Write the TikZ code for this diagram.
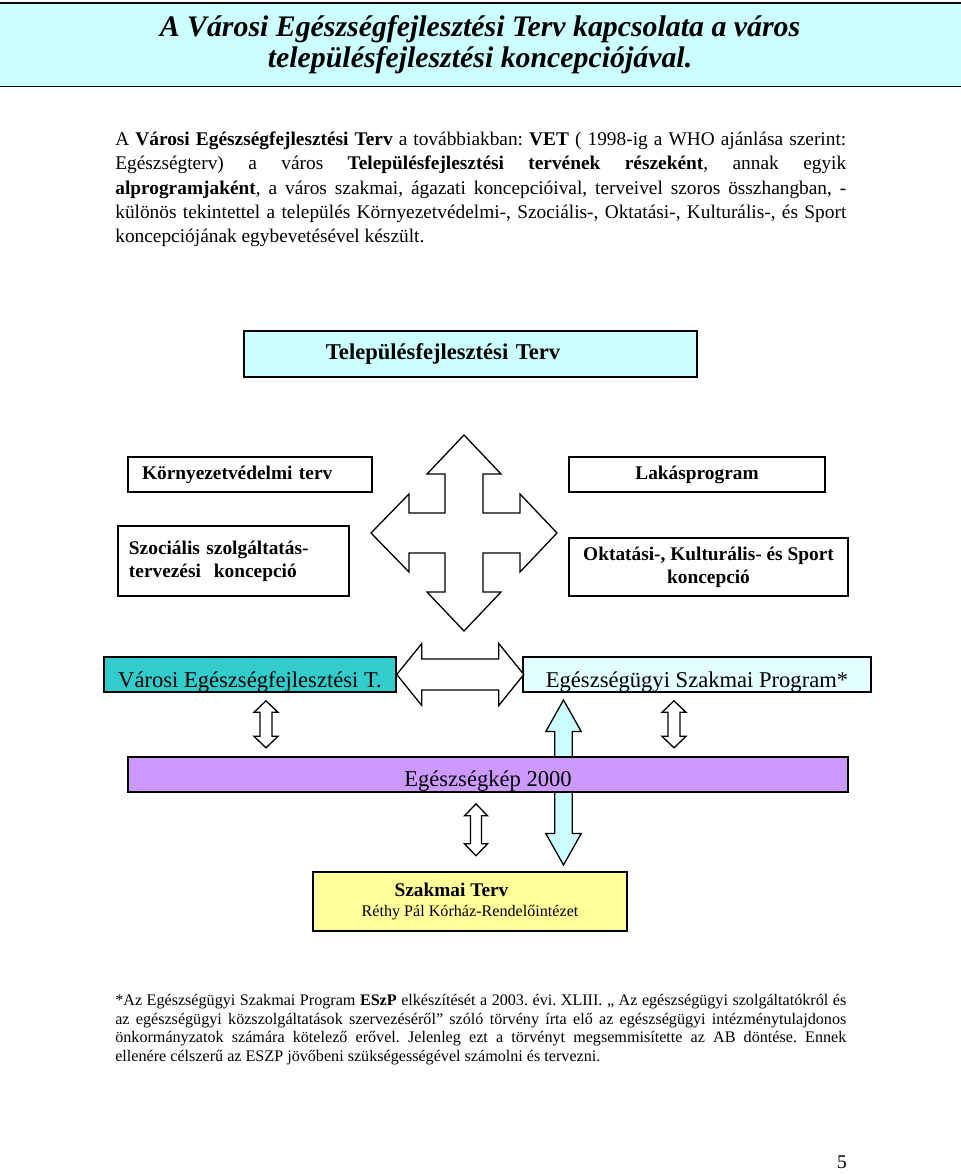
\documentclass[tikz,border=0pt]{standalone}
\usepackage{fontspec}
\setmainfont{Liberation Serif}
\usetikzlibrary{calc}
\frenchspacing

\definecolor{paleblue}{HTML}{CCFFFF}
\definecolor{iceblue}{HTML}{E3FFFF}
\definecolor{tealbox}{HTML}{33CCCC}
\definecolor{lilac}{HTML}{CC99FF}
\definecolor{lightyellow}{HTML}{FFFF99}

\begin{document}
\begin{tikzpicture}[%
      x=0.62pt, y=-0.62pt,
      box/.style={draw, line width=1pt, inner sep=0pt},
      hollow/.style={draw, line width=0.8pt, fill=white, line join=miter},
      bigtext/.style={font=\fontsize{14}{16}\selectfont},
      boldtext/.style={font=\fontsize{12}{14.3}\selectfont\bfseries},
      ]
      \useasboundingbox (0,0) rectangle (960,1174);

      % title band
      \node [box, fill=paleblue, minimum width=598.9pt, minimum height=51.8pt,
             align=center, font=\fontsize{18.5}{19.2}\selectfont\bfseries\itshape]
            (title) at (480,44.8)
            {A Városi Egészségfejlesztési Terv kapcsolata a város\\
             településfejlesztési koncepciójával.};

      % intro paragraph
      \node [anchor=north west, inner sep=0pt, text width=453.2pt, align=justify,
             font=\fontsize{12}{14.9}\selectfont]
            (intro) at (115,132)
            {A \textbf{Városi Egészségfejlesztési Terv} a továbbiakban: \textbf{VET} ( 1998-ig a WHO ajánlása szerint:\linebreak
             Egészségterv) a város \textbf{Településfejlesztési tervének részeként}, annak egyik\linebreak
             \textbf{alprogramjaként}, a város szakmai, ágazati koncepcióival, terveivel szoros összhangban, -\linebreak
             különös tekintettel a település Környezetvédelmi-, Szociális-, Oktatási-, Kulturális-, és Sport\linebreak
             koncepciójának egybevetésével készült.};

      % upper boxes
      \node [box, fill=paleblue, minimum width=280.9pt, minimum height=28.5pt,
             inner xsep=50.8pt, text width=179.2pt, align=left,
             font=\fontsize{14}{16}\selectfont\bfseries]
            (tft) at (470.5,354) {Településfejlesztési Terv};
      \node [box, boldtext, minimum width=151.3pt, minimum height=21.7pt,
             inner xsep=8.7pt, text width=133.9pt, align=left]
            (korny) at (250,474.5) {Környezetvédelmi terv};
      \node [box, boldtext, minimum width=158.7pt, minimum height=21.7pt]
            (lakas) at (697,474.5) {Lakásprogram};
      \node [box, boldtext, minimum width=143.2pt, minimum height=43.4pt,
             inner xsep=6.8pt, text width=129.6pt, align=left]
            (szoc) at (233.5,561) {Szociális szolgáltatás-\\tervezési\ \ koncepció};
      \node [box, boldtext, minimum width=173pt, minimum height=36pt, align=center]
            (oktat) at (708.5,567) {Oktatási-, Kulturális- és Sport\\koncepció};

      % four way arrow
      \draw [hollow, shift={(464,533)}] (0,-98) -- (37,-59) -- (19,-59) -- (19,-20)
            -- (56,-20) -- (56,-39) -- (93,0) -- (56,39) -- (56,20) -- (19,20)
            -- (19,59) -- (37,59) -- (0,98) -- (-37,59) -- (-19,59) -- (-19,20)
            -- (-55,20) -- (-55,39) -- (-93,0) -- (-55,-39) -- (-55,-20) -- (-19,-20)
            -- (-19,-59) -- (-37,-59) -- cycle;

      % light blue arrow behind Egeszsegkep
      \draw [hollow, fill=paleblue, shift={(563.5,782.5)}] (0,-82.5) -- (17.7,-51)
            -- (8.7,-51) -- (8.7,51) -- (17.7,51) -- (0,82.5) -- (-17.7,51)
            -- (-8.7,51) -- (-8.7,-51) -- (-17.7,-51) -- cycle;

      % lower boxes, text cut at the bottom edge
      \node [box, fill=tealbox, minimum width=181pt, minimum height=21.7pt,
             path picture={\node [bigtext, anchor=base, inner sep=0pt] (vetlbl)
               at ($(path picture bounding box.south)+(0,-5)$) {Városi Egészségfejlesztési T.};}]
            (vet) at (250,674.5) {};
      \node [box, fill=iceblue, minimum width=215.8pt, minimum height=21.7pt,
             path picture={\node [bigtext, anchor=base, inner sep=0pt] (eszplbl)
               at ($(path picture bounding box.south)+(0,-5)$) {Egészségügyi Szakmai Program*};}]
            (eszp) at (697,674.5) {};
      \node [box, fill=lilac, minimum width=446.4pt, minimum height=21.7pt,
             path picture={\node [bigtext, anchor=base, inner sep=0pt] (egelbl)
               at ($(path picture bounding box.south)+(0,-6)$) {Egészségkép 2000};}]
            (ege) at (488,774.5) {};
      \node [box, fill=lightyellow, minimum width=194.7pt, minimum height=36.6pt,
             align=center, font=\fontsize{10}{12.4}\selectfont]
            (szakmai) at (470,901.5)
            {{\fontsize{12}{12.4}\selectfont\bfseries Szakmai Terv\hspace*{23pt}}\\
             Réthy Pál Kórház-Rendelőintézet};

      % double arrows
      \draw [hollow, shift={(vet.east)}] (0,0) -- (25,-31) -- (25,-15.5) -- (102,-15.5)
            -- (102,-31) -- (127,0) -- (102,31) -- (102,15.5) -- (25,15.5) -- (25,31) -- cycle;
      \draw [hollow, shift={($(vet.south)+(16,31.5)$)}] (0,-23.5) -- (12,-12) -- (6,-12)
            -- (6,12) -- (12,12) -- (0,23.5) -- (-12,12) -- (-6,12) -- (-6,-12) -- (-12,-12) -- cycle;
      \draw [hollow, shift={($(eszp.south)+(-23,31.5)$)}] (0,-23.5) -- (12,-12) -- (6,-12)
            -- (6,12) -- (12,12) -- (0,23.5) -- (-12,12) -- (-6,12) -- (-6,-12) -- (-12,-12) -- cycle;
      \draw [hollow, shift={($(ege.south)+(-12,37)$)}] (0,-26) -- (11.5,-14) -- (5.5,-14)
            -- (5.5,14) -- (11.5,14) -- (0,26) -- (-11.5,14) -- (-5.5,14) -- (-5.5,-14) -- (-11.5,-14) -- cycle;

      % footnote
      \node [anchor=north west, inner sep=0pt, text width=453.2pt, align=justify,
             font=\fontsize{10}{11.6}\selectfont]
            (note) at (115,994)
            {*Az Egészségügyi Szakmai Program \textbf{ESzP} elkészítését a 2003. évi. XLIII. „ Az egészségügyi szolgáltatókról és\linebreak
             az egészségügyi közszolgáltatások szervezéséről” szóló törvény írta elő az egészségügyi intézménytulajdonos\linebreak
             önkormányzatok számára kötelező erővel. Jelenleg ezt a törvényt megsemmisítette az AB döntése. Ennek\linebreak
             ellenére célszerű az ESZP jövőbeni szükségességével számolni és tervezni.};

      \node [anchor=base, inner sep=0pt, font=\fontsize{12}{14}\selectfont] (pagenum) at (842,1168) {5};
\end{tikzpicture}
\end{document}
